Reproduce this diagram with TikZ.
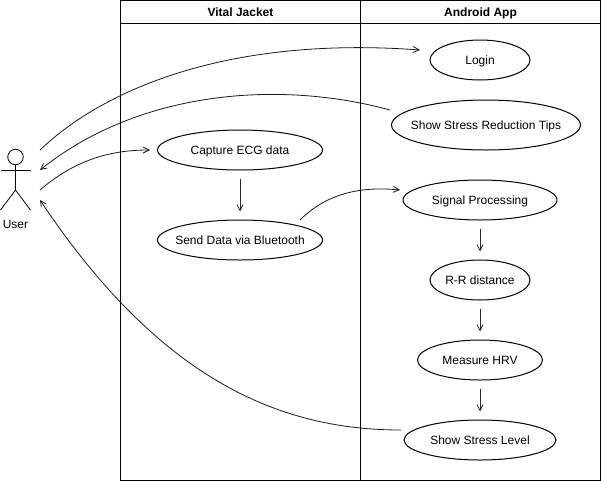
\documentclass[tikz,border=0pt]{standalone}
\usepackage{fontspec}
\setmainfont{Liberation Sans}
\usetikzlibrary{positioning, arrows.meta, shapes.geometric}
\newcommand{\uctext}[1]{\makebox[0pt]{\smash{\raisebox{-4.6pt}{#1}}}}

\begin{document}
\begin{tikzpicture}[
  x=1pt, y=-1pt,
  lane/.style={
    draw, line width=1pt, minimum width=240pt, minimum height=480pt,
    inner sep=0pt
  },
  lanehead/.style={
    draw, line width=1pt, minimum width=240pt, minimum height=23pt,
    inner sep=0pt, font=\fontsize{12}{14}\selectfont\bfseries
  },
  usecase/.style={
    draw, ellipse, line width=1pt, minimum width=#1, minimum height=40pt,
    inner sep=0pt, font=\fontsize{12}{14}\selectfont
  },
  flow/.style={
    -{Straight Barb[length=6pt, width=6pt]}, line width=0.8pt, color=black!85,
    shorten >=8pt, shorten <=8pt
  },
  curved/.style={
    -{Straight Barb[length=6pt, width=6pt]}, line width=0.8pt, color=black!90
  },
  actorline/.style={line width=0.8pt},
]
\useasboundingbox (0,0) rectangle (601,482);

% swimlanes
\node[lane] (jacket) at (240.5,240.5) {};
\node[lane] (android) at (480.5,240.5) {};
\node[lanehead] (jackethead) at (240.5,12) {\uctext{Vital Jacket}};
\node[lanehead] (androidhead) at (480.5,12) {\uctext{Android App}};

% android app use cases
\node[usecase=100pt] (login) at (480,60) {\uctext{Login}};
\node[usecase=189pt, minimum height=50pt] (tips) at (486,125) {\uctext{Show Stress Reduction Tips}};
\node[usecase=154pt] (signal) at (480,200) {\uctext{Signal Processing}};
\node[usecase=100pt] (rr) at (480,280) {\uctext{R-R distance}};
\node[usecase=125pt] (hrv) at (480,360) {\uctext{Measure HRV}};
\node[usecase=152pt] (level) at (480,440) {\uctext{Show Stress Level}};

% vital jacket use cases
\node[usecase=165pt] (capture) at (240,150) {\uctext{Capture ECG data}};
\node[usecase=165pt] (send) at (240,240) {\uctext{Send Data via Bluetooth}};

% actor
\node[draw, circle, actorline, minimum size=15.5pt, inner sep=0pt] (head) at (15.5,157) {};
\coordinate (hip) at (15.5,190);
\coordinate (armleft) at (0.5,170);
\coordinate (armright) at (30.5,170);
\coordinate (legleft) at (0.5,210);
\coordinate (legright) at (30.5,210);
\draw[actorline] (head) -- (hip);
\draw[actorline] (armleft) -- (armright);
\draw[actorline] (legleft) -- (hip) -- (legright);
\node[font=\fontsize{12}{14}\selectfont] (user) at (15.5,224) {User};

% free ends of the curves
\coordinate (userone) at (40,150);
\coordinate (usertwo) at (40,170);
\coordinate (userthree) at (40,190);
\coordinate (userfour) at (40,200);
\coordinate (loginend) at (420,50);
\coordinate (tipsstart) at (390,110);
\coordinate (captureend) at (150,150);
\coordinate (sendstart) at (300,220);
\coordinate (signalend) at (400,190);
\coordinate (levelstart) at (401,430);

% straight arrows
\foreach \a/\b in {capture/send, signal/rr, rr/hrv, hrv/level} {
  \draw[flow] (\a) -- (\b);
}

% curved arrows
\draw[curved] (userone) .. controls (105,88) and (230,36) .. (loginend);
\draw[curved] (tipsstart) .. controls (280,80) and (140,90) .. (usertwo);
\draw[curved] (userthree) .. controls (75,160) and (110,150) .. (captureend);
\draw[curved] (sendstart) .. controls (320,200) and (350,185) .. (signalend);
\draw[curved] (levelstart) .. controls (280,430) and (160,380) .. (userfour);
\end{tikzpicture}
\end{document}
